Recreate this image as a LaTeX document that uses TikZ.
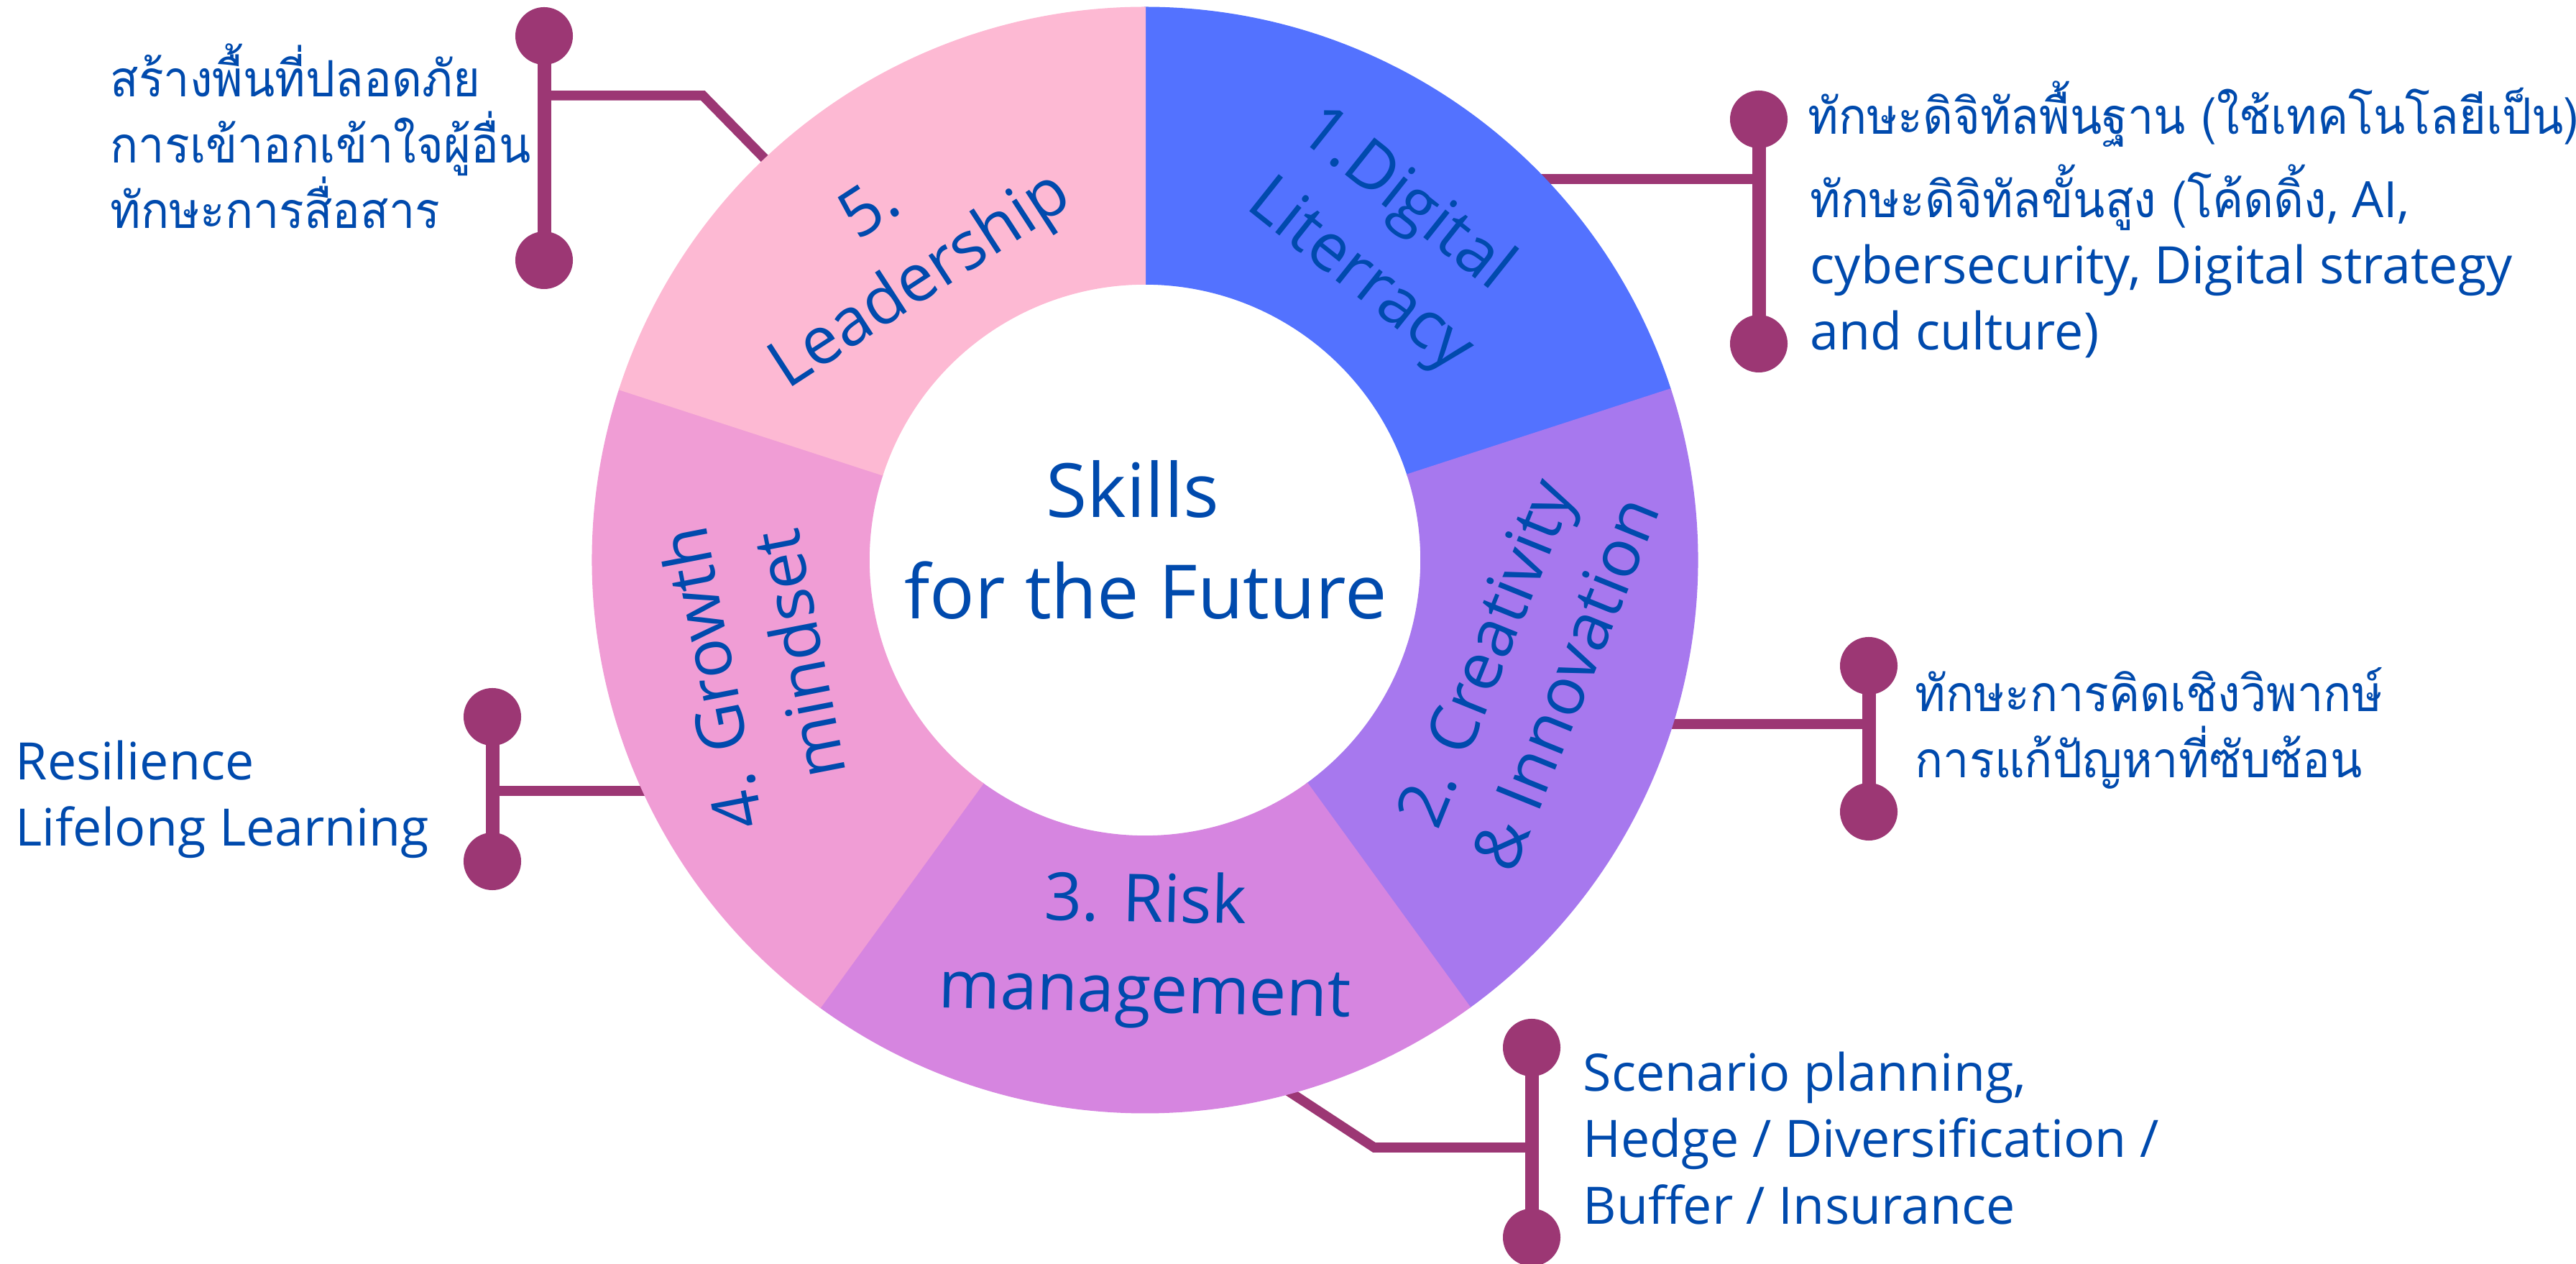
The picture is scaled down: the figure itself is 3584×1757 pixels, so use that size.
\documentclass[tikz,border=0pt]{standalone}
\usepackage{fontspec}
\setmainfont{Open Sans}
\newfontfamily\thaifont[Script=Thai,FakeStretch=0.93]{Loma}
\usetikzlibrary{calc}
\definecolor{txtblue}{RGB}{0,74,173}
\definecolor{conn}{RGB}{156,55,116}
\definecolor{segA}{RGB}{83,114,255}
\definecolor{segB}{RGB}{167,120,238}
\definecolor{segC}{RGB}{214,133,224}
\definecolor{segD}{RGB}{240,157,213}
\definecolor{segE}{RGB}{253,185,211}
\tikzset{
  seglabel/.style={text=txtblue, inner sep=0pt, font=\fontsize{26.2}{30}\selectfont, anchor=base},
  centerlabel/.style={text=txtblue, inner sep=0pt, font=\fontsize{29.6}{34}\selectfont, anchor=base},
  sidetext/.style={text=txtblue, inner sep=0pt, font=\fontsize{20.4}{24}\selectfont, anchor=base west},
  thaitext/.style={text=txtblue, inner sep=0pt, font=\thaifont\fontsize{19.8}{24}\selectfont, anchor=base west},
  dotnode/.style={circle, fill=conn, inner sep=0pt, minimum size=0.8cm},
  connbar/.style={draw=conn, line width=0.19cm},
  connbranch/.style={draw=conn, line width=0.135cm, line join=miter},
  segfill/.style={fill=#1, draw=#1, line width=0.6pt}
}
\begin{document}
\begin{tikzpicture}[x=0.01cm,y=0.01cm]
\useasboundingbox (0,0) rectangle (3584,1757);
\coordinate (C) at (1593,978);

% ---- connectors ----
% Leadership (top-left)
\node[dotnode] (ld1) at (757,1707) {};
\node[dotnode] (ld2) at (757,1395) {};
\draw[connbar] (ld1.center) -- (ld2.center);
\coordinate (lb) at (757,1624);
\coordinate (lk) at (978,1624);
\coordinate (le) at (1120,1479);
\draw[connbranch] (lb) -- (lk) -- (le);
% Digital (top-right)
\node[dotnode] (dd1) at (2447,1591) {};
\node[dotnode] (dd2) at (2447,1279) {};
\draw[connbar] (dd1.center) -- (dd2.center);
\coordinate (db) at (2447,1508);
\coordinate (de) at (2050,1508);
\draw[connbranch] (db) -- (de);
% Creativity (right)
\node[dotnode] (kd1) at (2600,831) {};
\node[dotnode] (kd2) at (2600,628) {};
\draw[connbar] (kd1.center) -- (kd2.center);
\coordinate (kb) at (2600,750);
\coordinate (ke) at (2250,750);
\draw[connbranch] (kb) -- (ke);
% Risk (bottom-right)
\node[dotnode] (rd1) at (2131,300) {};
\node[dotnode] (rd2) at (2131,36) {};
\draw[connbar] (rd1.center) -- (rd2.center);
\coordinate (rb) at (2131,161);
\coordinate (rk) at (1912,161);
\coordinate (re) at (1729,281);
\draw[connbranch] (rb) -- (rk) -- (re);
% Growth (left)
\node[dotnode] (gd1) at (685,760) {};
\node[dotnode] (gd2) at (685,559) {};
\draw[connbar] (gd1.center) -- (gd2.center);
\coordinate (gb) at (685,657);
\coordinate (ge) at (950,657);
\draw[connbranch] (gb) -- (ge);

% ---- donut ----
\path[segfill=segA] ($(C)+(18:7.68cm)$) arc[start angle=18,end angle=90,radius=7.68cm]
  -- ($(C)+(90:3.84cm)$) arc[start angle=90,end angle=18,radius=3.84cm] -- cycle;
\path[segfill=segB] ($(C)+(-54:7.68cm)$) arc[start angle=-54,end angle=18,radius=7.68cm]
  -- ($(C)+(18:3.84cm)$) arc[start angle=18,end angle=-54,radius=3.84cm] -- cycle;
\path[segfill=segC] ($(C)+(-126:7.68cm)$) arc[start angle=-126,end angle=-54,radius=7.68cm]
  -- ($(C)+(-54:3.84cm)$) arc[start angle=-54,end angle=-126,radius=3.84cm] -- cycle;
\path[segfill=segD] ($(C)+(162:7.68cm)$) arc[start angle=162,end angle=234,radius=7.68cm]
  -- ($(C)+(234:3.84cm)$) arc[start angle=234,end angle=162,radius=3.84cm] -- cycle;
\path[segfill=segE] ($(C)+(90:7.68cm)$) arc[start angle=90,end angle=162,radius=7.68cm]
  -- ($(C)+(162:3.84cm)$) arc[start angle=162,end angle=90,radius=3.84cm] -- cycle;

% ---- ring labels ----
\node[seglabel, rotate=33] (lead1) at (1226,1443) {5.};
\node[seglabel, rotate=33] (lead2) at (1295,1344) {Leadership};
\node[seglabel, rotate=-38.5] (dig1) at (1940,1459) {1.Digital};
\node[seglabel, rotate=-38.5] (dig2) at (1876,1353) {Literracy};
\node[seglabel, rotate=68] (cre1) at (2096,837) {2. Creativity};
\node[seglabel, rotate=68] (cre2) at (2208,794) {\& Innovation};
\node[seglabel, rotate=-1.2] (risk1) at (1593,475) {3. Risk};
\node[seglabel, rotate=-1.2] (risk2) at (1592,349) {management};
\node[seglabel, rotate=101] (gro1) at (1022,820) {4. Growth};
\node[seglabel, rotate=101] (gro2) at (1144,853) {mindset};
\node[centerlabel] (ctr1) at (1576,1037) {Skills};
\node[centerlabel] (ctr2) at (1594,896) {for the Future};

% ---- side texts ----
\node[thaitext] (lt1) at (153,1622) {สร้างพื้นที่ปลอดภัย};
\node[thaitext] (lt2) at (153,1530) {การเข้าอกเข้าใจผู้อื่น};
\node[thaitext] (lt3) at (153,1439) {ทักษะการสื่อสาร};

\node[thaitext] (dt1) at (2515,1570) {ทักษะดิจิทัลพื้นฐาน (ใช้เทคโนโลยีเป็น)};
\node[thaitext] (dt2) at (2518,1454) {ทักษะดิจิทัลขั้นสูง (โค้ดดิ้ง{\normalfont, AI,}};
\node[sidetext] (dt3) at (2518,1362) {cybersecurity, Digital strategy};
\node[sidetext] (dt4) at (2518,1270) {and culture)};

\node[thaitext] (ct1) at (2664,767) {ทักษะการคิดเชิงวิพากษ์};
\node[thaitext] (ct2) at (2664,675) {การแก้ปัญหาที่ซับซ้อน};

\node[sidetext] (gt1) at (21,672) {Resilience};
\node[sidetext] (gt2) at (21,580) {Lifelong Learning};

\node[sidetext] (rt1) at (2202,239) {Scenario planning,};
\node[sidetext] (rt2) at (2202,147) {Hedge / Diversification /};
\node[sidetext] (rt3) at (2202,55) {Buffer / Insurance};
\end{tikzpicture}
\end{document}
